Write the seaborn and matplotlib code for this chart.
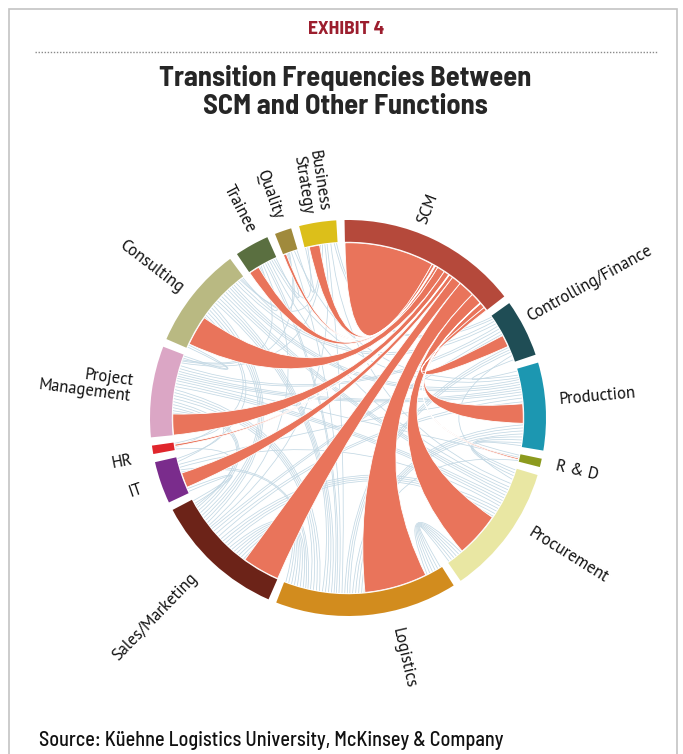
import numpy as np
import matplotlib
matplotlib.use("Agg")
import matplotlib.pyplot as plt
from matplotlib.path import Path
from matplotlib.patches import PathPatch, Wedge, Rectangle
from matplotlib.lines import Line2D
import seaborn as sns

# sectors, clockwise from the top
keys = ["SCM", "CF", "PROD", "RD", "PROC", "LOG", "SM", "IT", "HR", "PM",
        "CONS", "TRAIN", "QUAL", "BS"]
labels = ["SCM", "Controlling/Finance", "Production", "R & D", "Procurement",
          "Logistics", "Sales/Marketing", "IT", "HR", "Project\nManagement",
          "Consulting", "Trainee", "Quality", "Business\nStrategy"]

# SCM <-> function transitions (width at the function end / at the SCM end)
to_scm = [0, 4, 6.5, 0.5, 15, 21, 12.5, 5, 0.7, 7, 10, 3.5, 1, 3.5]
from_scm = [0, 1.2, 1.8, 0.2, 3.8, 5.5, 3.2, 1.3, 0.2, 1.8, 2.6, 0.9, 0.3, 0.9]
scm_self = 15

# transitions between the other functions
pair_a = ["CF", "CF", "CF", "CF", "CF", "CF", "CF",
          "PROD", "PROD", "PROD", "PROD", "PROD", "PROD", "PROD", "PROD", "PROD",
          "RD", "RD",
          "PROC", "PROC", "PROC", "PROC", "PROC", "PROC", "PROC",
          "LOG", "LOG", "LOG", "LOG", "LOG", "LOG", "LOG",
          "SM", "SM", "SM", "SM", "SM", "SM",
          "IT", "IT", "HR", "HR",
          "PM", "PM", "PM", "PM",
          "CONS", "CONS", "CONS", "TRAIN", "TRAIN", "QUAL"]
pair_b = ["PROD", "PROC", "LOG", "SM", "PM", "CONS", "BS",
          "RD", "PROC", "LOG", "SM", "PM", "CONS", "QUAL", "TRAIN", "IT",
          "LOG", "PM",
          "LOG", "SM", "PM", "CONS", "IT", "TRAIN", "BS",
          "SM", "PM", "CONS", "IT", "TRAIN", "QUAL", "BS",
          "IT", "HR", "PM", "CONS", "TRAIN", "BS",
          "PM", "CONS", "PM", "CONS",
          "CONS", "TRAIN", "QUAL", "BS",
          "TRAIN", "QUAL", "BS", "QUAL", "BS", "BS"]
pair_w = [1.5, 1.5, 2.5, 2, 2, 2, 1.5,
          0.8, 3, 4, 2.5, 2.5, 2.5, 1.2, 0.5, 1,
          0.6, 0.6,
          6, 4, 3, 3, 1, 1, 1.5,
          7, 4, 4, 1.5, 1.5, 1, 1,
          2, 0.6, 3, 4, 1, 0.5,
          1, 1, 0.6, 0.6,
          1.5, 0.5, 0.3, 1,
          0.7, 0.5, 0.5, 0.5, 1, 0.5]

sector_colors = ["#b5493b", "#1f4d55", "#1c97b1", "#8c9a1e", "#e9e7a3", "#d28c1e",
                 "#6c2318", "#7a2c8c", "#e0262c", "#dba6c5", "#b9b982", "#5a6f40",
                 "#a08a3c", "#dcbf1a"]
red = "#e9745b"
blue = "#c3d8e4"

# ---------------------------------------------------------------- layout
n = len(keys)
GAP = 2.4
START = 91.0
R_OUT, R_IN = 1.0, 0.89
R_LINK = 0.885

# label placement (angle in degrees, radius)
label_ang = [69, 29, 5, -13, -32, -77, -134, -161, -169, 172.5, 142.5, 117.5, 109.5, 99]
label_rad = [1.05, 1.04, 1.07, 1.08, 1.08, 1.09, 1.11, 1.1, 1.11, 1.1, 1.06, 1.06, 1.07, 1.05]

blue_links = {i: [] for i in range(n)}
for a, b, w in zip(pair_a, pair_b, pair_w):
    ia, ib = keys.index(a), keys.index(b)
    blue_links[ia].append((ib, w))
    blue_links[ib].append((ia, w))

size = [2 * scm_self + sum(from_scm)]
for i in range(1, n):
    size.append(to_scm[i] + sum(w for _, w in blue_links[i]))
unit = (360 - n * GAP) / sum(size)

sec_start, sec_end = [], []
ang = START
for s in size:
    sec_start.append(ang)
    sec_end.append(ang - s * unit)
    ang = ang - s * unit - GAP

# where the SCM ribbon sits inside each sector (share of other links before it)
red_before = [0, 0.54, 0.49, 0.5, 0.67, 0.09, 0.0, 0.1, 0.5, 0.0, 0.05, 0.0, 0.0, 0.1]

slots_red, slots_scm, slots_blue = {}, {}, {}

a = sec_start[0]
self_end = (a, a - 2 * scm_self * unit)
a -= 2 * scm_self * unit
for j in sorted(range(1, n), key=lambda j: -(j % n)):
    w = from_scm[j] * unit
    slots_scm[j] = (a, a - w)
    a -= w

for i in range(1, n):
    links = sorted(blue_links[i], key=lambda t: -((t[0] - i) % n))
    tot = sum(w for _, w in links)
    a = sec_start[i]
    cum = 0
    placed = False
    for j, w in links:
        if not placed and cum >= red_before[i] * tot - 1e-9:
            slots_red[i] = (a, a - to_scm[i] * unit)
            a -= to_scm[i] * unit
            placed = True
        slots_blue[(i, j)] = (a, a - w * unit)
        a -= w * unit
        cum += w
    if not placed:
        slots_red[i] = (a, a - to_scm[i] * unit)


def pt(deg, r=R_LINK):
    t = np.radians(deg)
    return np.array([r * np.cos(t), r * np.sin(t)])


def arc_pts(a1, a2, r=R_LINK, k=24):
    return [pt(t, r) for t in np.linspace(a1, a2, k)]


def ctrl(x, y, f):
    d = abs(((x - y + 180) % 360) - 180)
    m = np.radians((x + y) / 2 if abs(x - y) <= 180 else (x + y) / 2 + 180)
    return np.array([np.cos(m), np.sin(m)]) * R_LINK * f(d)


def ribbon(ax, e1, e2, f, **kw):
    (a1, a2), (b1, b2) = e1, e2
    p = arc_pts(a1, a2)
    verts = p + [ctrl(a2, b1, f), pt(b1)]
    codes = [Path.MOVETO] + [Path.LINETO] * (len(p) - 1) + [Path.CURVE3, Path.CURVE3]
    q = arc_pts(b1, b2)[1:]
    verts += q + [ctrl(b2, a1, f), pt(a1)]
    codes += [Path.LINETO] * len(q) + [Path.CURVE3, Path.CURVE3]
    ax.add_patch(PathPatch(Path(verts, codes), **kw))


def strand(ax, x, y, f, **kw):
    verts = [pt(x), ctrl(x, y, f), pt(y)]
    codes = [Path.MOVETO, Path.CURVE3, Path.CURVE3]
    ax.add_patch(PathPatch(Path(verts, codes), facecolor="none", **kw))


def loop(ax, e, **kw):
    a1, a2 = e
    p = arc_pts(a1, a2)
    verts = p + [np.zeros(2), pt(a1)]
    codes = [Path.MOVETO] + [Path.LINETO] * (len(p) - 1) + [Path.CURVE3, Path.CURVE3]
    ax.add_patch(PathPatch(Path(verts, codes), **kw))


# ---------------------------------------------------------------- figure
sns.set_theme(style="white")
plt.rcParams["font.family"] = ["PT Sans", "Open Sans", "DejaVu Sans"]
cond = ["Barlow Semi Condensed", "Barlow Condensed", "DejaVu Sans"]

W, H = 683, 754
fig = plt.figure(figsize=(W / 100, H / 100), dpi=100)

L = 1.6
cx, cy, rpx = 348, 418, 198
ax = fig.add_axes([(cx - L * rpx) / W, (H - cy - L * rpx) / H, 2 * L * rpx / W, 2 * L * rpx / H])
ax.set_xlim(-L, L)
ax.set_ylim(-L, L)
ax.set_aspect("equal")
ax.axis("off")

# thin links between the other functions, one line per strand
soft = lambda d: 0.5 * max(0, 1 - d / 120)
for a_, b_ in zip(pair_a, pair_b):
    ia, ib = keys.index(a_), keys.index(b_)
    (a1, a2), (b1, b2) = slots_blue[(ia, ib)], slots_blue[(ib, ia)]
    k = max(1, int(round((a1 - a2) / (1.0 * unit))))
    ea = a1 + (np.arange(k) + 0.5) * (a2 - a1) / k
    eb = b2 + (np.arange(k) + 0.5) * (b1 - b2) / k
    for s in range(k):
        strand(ax, ea[s], eb[s], soft, edgecolor=blue, lw=0.55, zorder=1)

# SCM links
loop(ax, self_end, facecolor=red, edgecolor="white", lw=0.6, zorder=2)
for j in sorted(range(1, n), key=lambda j: -to_scm[j]):
    ribbon(ax, slots_scm[j], slots_red[j], lambda d: 0.0,
           facecolor=red, edgecolor="white", lw=0.6, zorder=3)

# outer ring and labels
for i in range(n):
    ax.add_patch(Wedge((0, 0), R_OUT, sec_end[i], sec_start[i], width=R_OUT - R_IN,
                       facecolor=sector_colors[i], edgecolor="none", zorder=4))
    m = ((label_ang[i] + 180) % 360) - 180
    x, y = pt(m, label_rad[i])
    if -90 <= m <= 90:
        rot, ha = m, "left"
    else:
        rot, ha = (m - 180 if m > 0 else m + 180), "right"
    ax.text(x, y, labels[i], rotation=rot, rotation_mode="anchor", ha=ha, va="center",
            multialignment=ha, fontsize=12, color="#111111", linespacing=0.95)

# frame, header, title, source
fig.add_artist(Rectangle((9 / W, -0.01), (677 - 9) / W, 1 - 9 / H + 0.01, transform=fig.transFigure,
                         fill=False, edgecolor="#c4c4c4", lw=1.2))
fig.add_artist(Line2D([35 / W, 657 / W], [1 - 52 / H] * 2, transform=fig.transFigure,
                      color="#8a8a8a", lw=1.0, linestyle=(0, (1, 1.2))))
fig.text(346 / W, 1 - 29 / H, "EXHIBIT 4", ha="center", va="center", color="#9c1e2e",
         fontsize=14, fontweight="bold", family=cond)
fig.text(345 / W, 1 - 92 / H, "Transition Frequencies Between\nSCM and Other Functions",
         ha="center", va="center", fontsize=20.5, fontweight="bold", family=cond, linespacing=1.12)
fig.text(39 / W, 1 - 740 / H, "Source: Küehne Logistics University, McKinsey & Company",
         ha="left", va="center", fontsize=14.5, fontweight="medium", family=cond, color="#111111")

plt.savefig("out.png", dpi=100)
